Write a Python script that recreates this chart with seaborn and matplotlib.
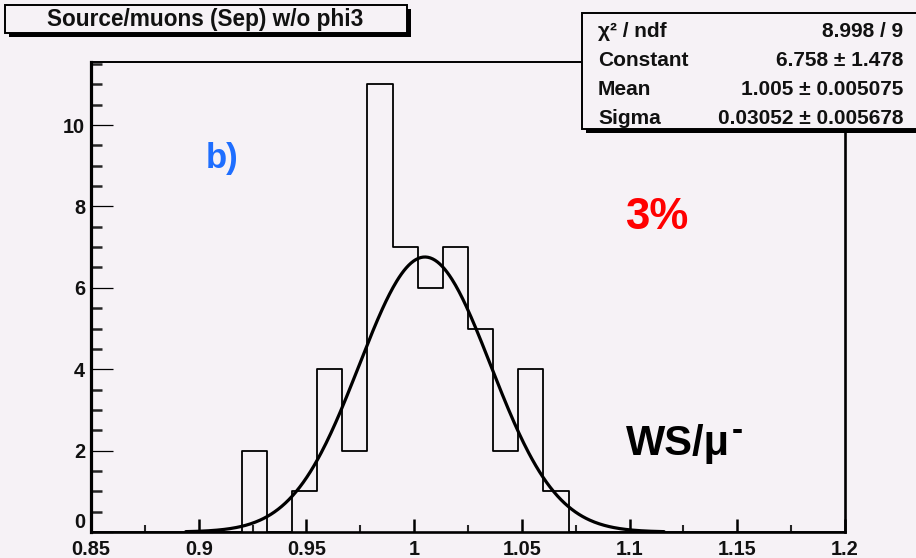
import numpy as np
import pandas as pd
import matplotlib
matplotlib.use("Agg")
import matplotlib.pyplot as plt
from matplotlib.patches import Rectangle
from matplotlib.text import Annotation
from matplotlib.ticker import AutoMinorLocator, FixedLocator, FixedFormatter
import seaborn as sns

# ---- data -------------------------------------------------------------
bin_lo, bin_hi, n_bins = 0.85, 1.2, 30
counts = [0, 0, 0, 0, 0, 0,
          2, 0, 1, 4, 2, 11, 7, 6, 7, 5, 2, 4, 1,
          0, 0, 0, 0, 0, 0, 0, 0, 0, 0, 0]

# Gaussian fit result
fit_constant = 6.758
fit_mean = 1.005
fit_sigma = 0.03052
fit_half_range = 0.111

stat_names = ["\u03c7\u00b2 / ndf", "Constant", "Mean", "Sigma"]
stat_values = ["8.998 / 9", "6.758 \u00b1 1.478", "1.005 \u00b1 0.005075",
               "0.03052 \u00b1 0.005678"]

x_ticks = [0.85, 0.9, 0.95, 1.0, 1.05, 1.1, 1.15, 1.2]
x_tick_labels = ["0.85", "0.9", "0.95", "1", "1.05", "1.1", "1.15", "1.2"]
y_ticks = [0, 2, 4, 6, 8, 10]
y_tick_labels = ["0", "2", "4", "6", "8", "10"]

title = "Source/muons (Sep) w/o phi3"

# ---- style ------------------------------------------------------------
sns.set_style("white")
BG = "#f6f2f6"
FONT = ["Liberation Sans", "DejaVu Sans"]
plt.rcParams["font.family"] = FONT
plt.rcParams["font.weight"] = "bold"

W, H = 916, 558
fig = plt.figure(figsize=(W / 100, H / 100), dpi=100, facecolor=BG)


def fx(px):
    return px / W


def fy(py):
    return 1 - py / H


ax = fig.add_axes([fx(91), fy(532), fx(845) - fx(91), fy(62) - fy(532)])
ax.set_facecolor(BG)

# histogram
edges = np.linspace(bin_lo, bin_hi, n_bins + 1)
centers = 0.5 * (edges[:-1] + edges[1:])
hist_df = pd.DataFrame({"x": centers, "w": counts})
sns.histplot(data=hist_df, x="x", weights="w", bins=n_bins,
             binrange=(bin_lo, bin_hi), element="step",
             fill=False, color="black", linewidth=1.3, ax=ax)

# fitted gaussian
xf = np.linspace(fit_mean - fit_half_range, fit_mean + fit_half_range, 400)
yf = fit_constant * np.exp(-0.5 * ((xf - fit_mean) / fit_sigma) ** 2)
sns.lineplot(x=xf, y=yf, color="black", linewidth=2.3, ax=ax)

ax.set_xlim(bin_lo, bin_hi)
ax.set_ylim(0, 11.55)
ax.set_xlabel("")
ax.set_ylabel("")

ax.xaxis.set_major_locator(FixedLocator(x_ticks))
ax.xaxis.set_major_formatter(FixedFormatter(x_tick_labels))
ax.yaxis.set_major_locator(FixedLocator(y_ticks))
ax.yaxis.set_major_formatter(FixedFormatter(y_tick_labels))
ax.xaxis.set_minor_locator(AutoMinorLocator(2))
ax.yaxis.set_minor_locator(AutoMinorLocator(4))

ax.tick_params(axis="x", which="major", direction="in", length=9.4, width=1.8,
               pad=6, labelsize=14.3, colors="black", bottom=True)
ax.tick_params(axis="x", which="minor", direction="in", length=5, width=1.5,
               bottom=True)
ax.tick_params(axis="y", which="major", direction="in", length=15.8, width=0.9,
               pad=4.3, labelsize=14.3, colors="black", left=True)
ax.tick_params(axis="y", which="minor", direction="in", length=8, width=1.8,
               left=True)
for lab in ax.get_xticklabels() + ax.get_yticklabels():
    lab.set_fontweight("bold")
    lab.set_color("#111111")
# the zero of the count axis sits just above the first x label
ax.get_yticklabels()[0].set_verticalalignment("bottom")

for side, lw in (("left", 2.3), ("bottom", 1.9), ("right", 1.9), ("top", 1.4)):
    ax.spines[side].set_visible(True)
    ax.spines[side].set_color("black")
    ax.spines[side].set_linewidth(lw)


# ---- boxes (title and fit statistics) ---------------------------------
def pave(x0, y0, x1, y1, shadow=4):
    fig.patches.append(Rectangle((fx(x0 + shadow), fy(y1 + shadow)),
                                 fx(x1 - x0), fy(y0) - fy(y1),
                                 transform=fig.transFigure, facecolor="black",
                                 edgecolor="black", linewidth=0, zorder=5))
    fig.patches.append(Rectangle((fx(x0), fy(y1)), fx(x1 - x0), fy(y0) - fy(y1),
                                 transform=fig.transFigure, facecolor=BG,
                                 edgecolor="black", linewidth=1.4, zorder=6))


pave(5, 5, 407, 33)
fig.text(fx(205), fy(19.5), title, ha="center", va="center", fontsize=16.3,
         fontweight="bold", color="#111111", zorder=10)

pave(582, 13, 940, 129)
rows_y = [37, 65.5, 95, 124]
for name, val, yb in zip(stat_names, stat_values, rows_y):
    fig.text(fx(598), fy(yb), name, ha="left", va="baseline", fontsize=15,
             fontweight="bold", color="#111111", zorder=10)
    fig.text(fx(903), fy(yb), val, ha="right", va="baseline", fontsize=15,
             fontweight="bold", color="#111111", zorder=10)

# ---- annotations ------------------------------------------------------
fig.text(fx(206), fy(168), "b)", ha="left", va="baseline", fontsize=25,
         fontweight="bold", color="#1e6eff")
fig.text(fx(625), fy(229), "3%", ha="left", va="baseline", fontsize=31.5,
         fontweight="bold", color="#ff0000")
t_ws = fig.text(fx(626), fy(455), "WS/\u03bc", ha="left", va="baseline",
                fontsize=30, fontweight="bold", color="black")
fig.add_artist(Annotation(
    "-", xy=(1.0, 1.0), xycoords=t_ws, xytext=(1.0, 5.5),
    textcoords="offset points", ha="left", va="top", fontsize=24,
    fontweight="bold", color="black"))

fig.savefig("out.png", dpi=100, facecolor=BG)
